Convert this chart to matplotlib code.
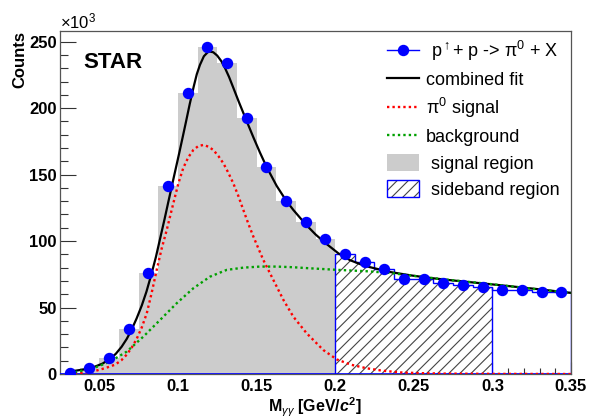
import numpy as np
import matplotlib
matplotlib.use("Agg")
import matplotlib.pyplot as plt
from matplotlib.lines import Line2D
from matplotlib.patches import Patch
from matplotlib.legend_handler import HandlerTuple

plt.rcParams['font.family'] = ['Liberation Sans', 'DejaVu Sans']
plt.rcParams['mathtext.fontset'] = 'custom'
plt.rcParams['mathtext.rm'] = 'Liberation Sans'
plt.rcParams['mathtext.it'] = 'Liberation Sans:italic'
plt.rcParams['mathtext.bf'] = 'Liberation Sans:bold'
plt.rcParams['mathtext.bfit'] = 'Liberation Sans:italic:bold'
plt.rcParams['hatch.linewidth'] = 0.8

# ---------------- data (counts in thousands) ----------------
bin_start = 0.025
bin_width = 0.0125
counts = [1.0, 4.8, 12.0, 33.5, 75.6, 141.2, 211.7, 246.3, 234.0, 192.4,
          156.0, 130.2, 114.4, 101.3, 90.3, 84.0, 79.0, 71.2, 71.4, 68.2,
          67.0, 65.7, 63.0, 63.2, 61.7, 61.9]
signal_region = (0.025, 0.2)
sideband_region = (0.2, 0.3)

fit_x = [0.031, 0.040, 0.046, 0.052, 0.057, 0.0605, 0.0642, 0.0675, 0.0706, 0.0738,
         0.077, 0.080, 0.0830, 0.0860, 0.0886, 0.0915, 0.0940, 0.0970, 0.1006, 0.1030,
         0.1050, 0.1075, 0.1100, 0.1120, 0.1140, 0.1165, 0.1195, 0.1225, 0.1250, 0.1275,
         0.1300, 0.1325, 0.1350, 0.1388, 0.1438, 0.1480, 0.1522, 0.1565, 0.1628, 0.1688,
         0.1734, 0.1813, 0.1875, 0.1938, 0.2020, 0.2095, 0.2160, 0.2220, 0.2350, 0.2480,
         0.2600, 0.2730, 0.3000, 0.3260, 0.3500]
fit_y = [1.8, 3.4, 5.0, 7.8, 11.5, 15.2, 20.5, 26.5, 33.5, 42.0,
         51.5, 62.0, 74.5, 88.0, 101.5, 116.5, 130.0, 146.0, 165.0, 178.0,
         189.0, 203.0, 216.0, 225.5, 232.5, 239.0, 242.7, 242.0, 239.5, 235.5,
         230.0, 223.5, 216.0, 204.5, 190.0, 178.0, 166.5, 155.5, 141.5, 130.5,
         123.4, 112.5, 105.0, 98.5, 90.8, 85.6, 82.6, 80.4, 76.7, 74.2,
         72.3, 70.6, 67.4, 64.2, 61.0]

sig_x = [0.031, 0.040, 0.047, 0.054, 0.060, 0.0640, 0.0674, 0.0706, 0.0738, 0.0770,
         0.0802, 0.0833, 0.0865, 0.0897, 0.0929, 0.0950, 0.0971, 0.1002, 0.1034, 0.1066,
         0.1098, 0.1130, 0.1162, 0.1194, 0.1225, 0.1257, 0.1289, 0.1320, 0.1352, 0.1384,
         0.1416, 0.1448, 0.1480, 0.1543, 0.1607, 0.1671, 0.1734, 0.1819, 0.1925, 0.2010,
         0.2100, 0.2201, 0.2300, 0.2413, 0.2550, 0.2700, 0.3000, 0.3500]
sig_y = [0.0, 0.8, 2.2, 4.5, 7.0, 10.3, 14.5, 19.8, 26.5, 35.0,
         45.7, 61.0, 78.3, 94.5, 108.4, 118.5, 128.5, 143.0, 155.0, 163.0,
         168.5, 171.5, 172.3, 171.0, 168.5, 164.0, 158.5, 151.5, 143.5, 134.0,
         123.4, 113.0, 103.3, 85.8, 70.7, 55.7, 43.1, 30.6, 18.0, 11.0,
         7.0, 4.3, 2.5, 1.2, 0.6, 0.3, 0.1, 0.0]

bg_x = [0.031, 0.0462, 0.0568, 0.0674, 0.078, 0.0886, 0.0992, 0.1098, 0.1204, 0.131,
        0.1416, 0.1522, 0.1628, 0.1734, 0.184, 0.202, 0.220, 0.235, 0.250, 0.273,
        0.300, 0.326, 0.350]
bg_y = [0.5, 4.3, 9.3, 16.8, 28.1, 40.6, 53.2, 64.5, 73.2, 78.3,
        80.0, 80.8, 80.8, 80.3, 79.5, 78.3, 77.3, 76.0, 73.8, 70.7,
        67.5, 64.0, 61.0]

x_ticks = [0.05, 0.1, 0.15, 0.2, 0.25, 0.3, 0.35]
x_ticklabels = ['0.05', '0.1', '0.15', '0.2', '0.25', '0.3', '0.35']
y_ticks = [0, 50, 100, 150, 200, 250]
y_ticklabels = ['0', '50', '100', '150', '200', '250']

# ---------------- figure ----------------
W, H = 595, 418
fig = plt.figure(figsize=(W / 100, H / 100), dpi=100)
ax = fig.add_axes([60 / W, 44 / H, 511 / W, 343 / H])

counts_a = np.array(counts)
edges = bin_start + bin_width * np.arange(len(counts) + 1)
lefts = edges[:-1]
centers = lefts + bin_width / 2

BLUE = '#0000ff'
GREEN = '#00a000'

# signal region (gray)
sr = (centers > signal_region[0]) & (centers < signal_region[1])
ax.bar(lefts[sr], counts_a[sr], width=bin_width, align='edge',
       color='#cccccc', lw=0, zorder=2)

# sideband region (hatched)
sb = (centers > sideband_region[0]) & (centers < sideband_region[1])
ax.bar(lefts[sb], counts_a[sb], width=bin_width, align='edge',
       facecolor='white', edgecolor='#444444', hatch='///', lw=0, zorder=2)

# histogram outline (blue) outside the gray region
rest = centers > signal_region[1]
rest_edges = np.append(lefts[rest], lefts[rest][-1] + bin_width)
ax.stairs(counts_a[rest], rest_edges, color=BLUE, lw=1.0, baseline=0, zorder=3)
sb_edges = np.append(lefts[sb], lefts[sb][-1] + bin_width)
ax.vlines([sb_edges[-1]], 0, counts_a[sb][-1], color=BLUE, lw=1.0, zorder=3)
ax.axhline(0, color=BLUE, lw=1.2, zorder=3)

# fit curves
ax.plot(fit_x, fit_y, color='black', lw=1.6, zorder=4)
dot = (0, (1.0, 1.3))
ax.plot(sig_x, sig_y, color='red', lw=1.7, ls=dot, zorder=5)
ax.plot(bg_x, bg_y, color=GREEN, lw=1.7, ls=dot, zorder=5)

# data points
ax.plot(centers, counts_a, ls='none', marker='o', ms=7.2, color=BLUE,
        mec=BLUE, zorder=6)

ax.set_xlim(0.025, 0.35)
ax.set_ylim(0, 258)
ax.set_xticks(x_ticks)
ax.set_xticklabels(x_ticklabels, fontweight='bold', fontsize=12)
ax.set_yticks(y_ticks)
ax.set_yticklabels(y_ticklabels, fontweight='bold', fontsize=12)
ax.set_xticks(np.arange(0.03, 0.3501, 0.01), minor=True)
ax.set_yticks(np.arange(0, 258, 10), minor=True)
ax.tick_params(axis='y', which='major', direction='in', length=11.5, width=0.8,
               color='#333333', pad=2.5)
ax.tick_params(axis='y', which='minor', direction='in', length=5.8, width=0.8,
               color='#333333')
ax.tick_params(axis='x', which='major', direction='in', length=8.6, width=0.8,
               color='#333333', pad=3.8)
ax.tick_params(axis='x', which='minor', direction='in', length=4.3, width=0.8,
               color='#333333')
for s in ax.spines.values():
    s.set_color('#555555')
    s.set_linewidth(0.9)

# texts
fig.text(60 / W, 1 - 28 / H, r'$\times$10$^{3}$', fontsize=12, ha='left', va='baseline')
fig.text(20 / W, 1 - 31 / H, 'Counts', rotation=90, fontsize=12, fontweight='bold',
         ha='center', va='top')
fig.text(83 / W, 1 - 68 / H, 'STAR', fontsize=16, fontweight='bold', ha='left',
         va='baseline')
fig.text(315 / W, 1 - 412 / H, r'M$_{\gamma\gamma}$ [GeV/$\mathbfit{c}^{\mathbf{2}}$]',
         fontsize=11.5, fontweight='bold', ha='center', va='baseline')

# legend
h_data = Line2D([], [], color=BLUE, marker='o', ms=7.2, lw=1.0)
h_fit = Line2D([], [], color='black', lw=1.6)
h_sig = Line2D([], [], color='red', lw=1.7, ls=dot)
h_bg = Line2D([], [], color=GREEN, lw=1.7, ls=dot)
h_sr = Patch(facecolor='#cccccc', edgecolor='none')
h_sb = (Patch(facecolor='white', edgecolor='#444444', hatch='///', lw=0),
        Patch(facecolor='none', edgecolor=BLUE, lw=1.0))
labels = [r' p$^{\uparrow}$+ p -> π$^{0}$ + X', 'combined fit', 'π$^{0}$ signal',
          'background', ' signal region', ' sideband region']
fig.legend([h_data, h_fit, h_sig, h_bg, h_sr, h_sb], labels,
           handler_map={tuple: HandlerTuple(ndivide=1, pad=0)},
           loc='upper left', bbox_to_anchor=(387 / W, 1 - 39 / H),
           bbox_transform=fig.transFigure, frameon=False, fontsize=13,
           borderpad=0, borderaxespad=0, handlelength=1.75, handleheight=1.1,
           handletextpad=0.4, labelspacing=0.40)

fig.savefig('out.png', dpi=100)
